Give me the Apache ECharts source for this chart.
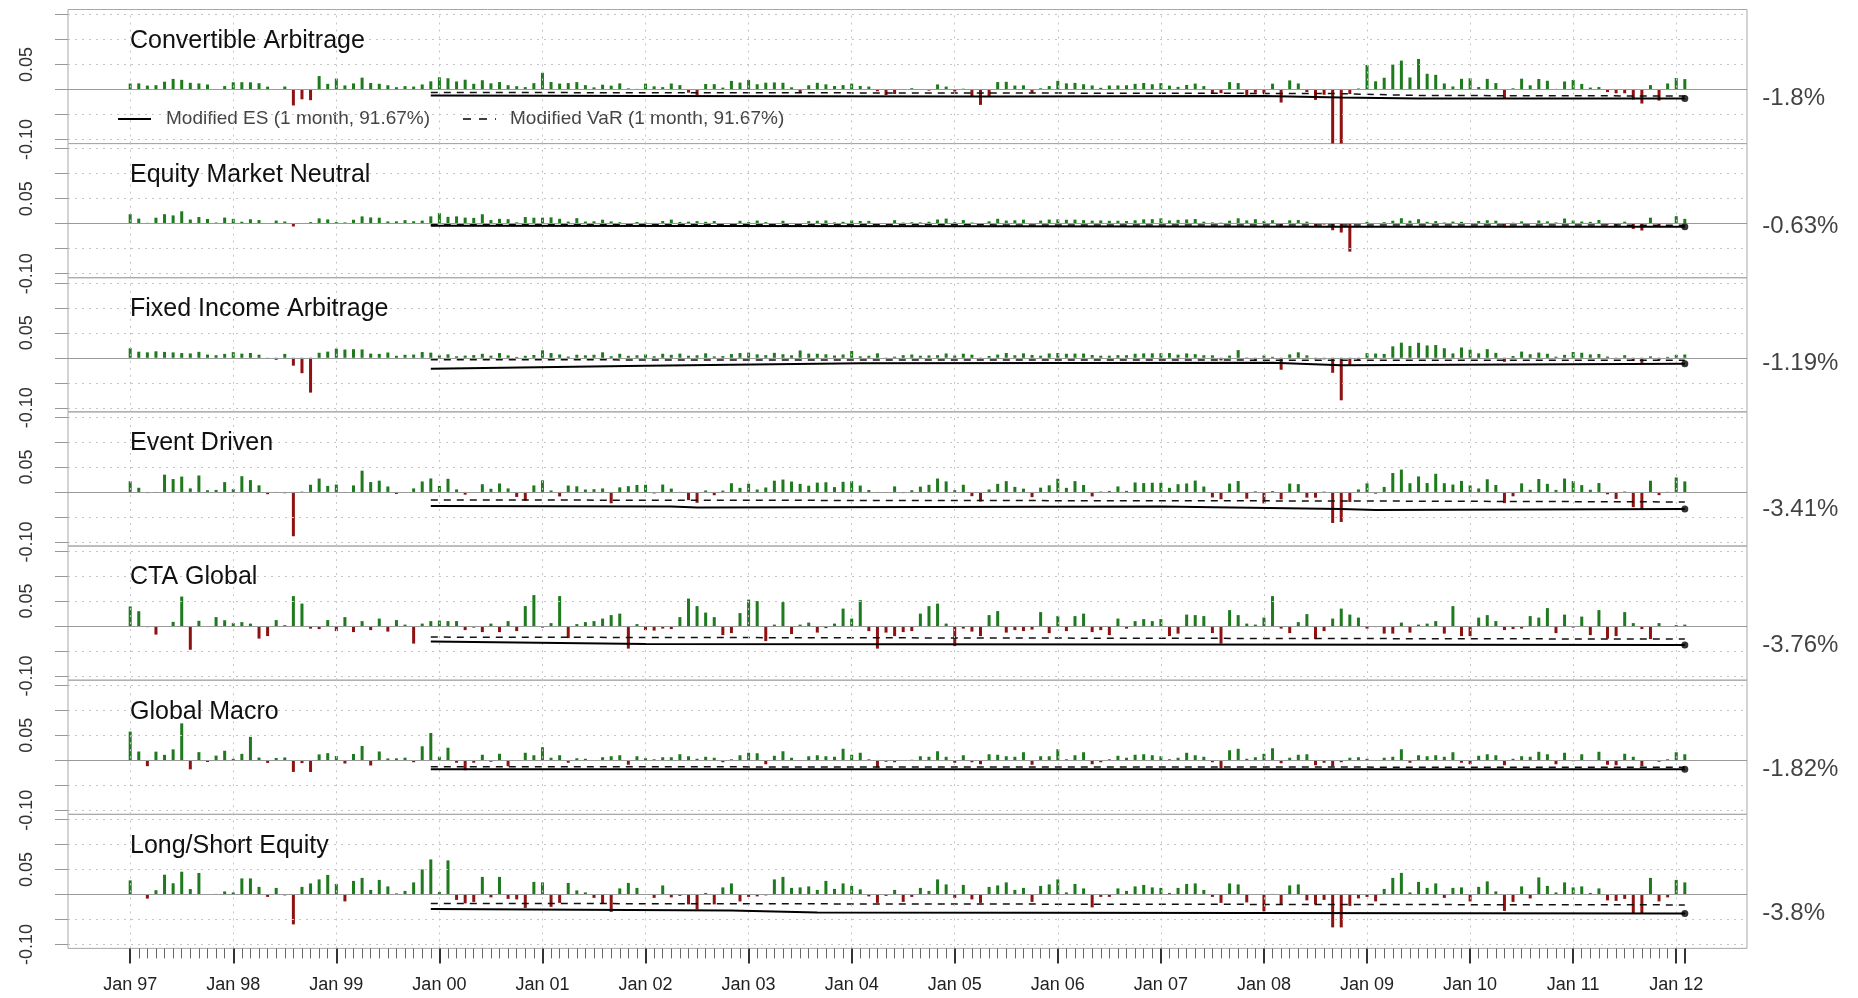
<!DOCTYPE html>
<html><head><meta charset="utf-8">
<script src="https://cdn.jsdelivr.net/npm/echarts@6/dist/echarts.min.js"></script>
<style>html,body{margin:0;padding:0;background:#fff}#c{width:1858px;height:998px}</style>
</head><body><div id="c"></div>
<script>
const panelNames = ['Convertible Arbitrage','Equity Market Neutral','Fixed Income Arbitrage','Event Driven','CTA Global','Global Macro','Long/Short Equity'];
const yearLabels = ['Jan 97','Jan 98','Jan 99','Jan 00','Jan 01','Jan 02','Jan 03','Jan 04','Jan 05','Jan 06','Jan 07','Jan 08','Jan 09','Jan 10','Jan 11','Jan 12'];
const yTickValues = [-0.10,-0.05,0,0.05,0.10,0.15];
const yLabelValues = [-0.10,0.05];
const esName = 'Modified ES (1 month, 91.67%)';
const varName = 'Modified VaR (1 month, 91.67%)';
const endLabels = ['-1.8%','-0.63%','-1.19%','-3.41%','-3.76%','-1.82%','-3.8%'];

// monthly returns Jan 1997 .. Feb 2012
const ca = [
.0119,.0123,.0078,.0086,.0156,.0212,.0193,.0134,.0122,.0100,.0000,.0068,
.0145,.0146,.0144,.0126,.0056,-.0006,.0060,-.0319,-.0196,-.0214,.0269,.0113,
.0219,.0082,.0122,.0237,.0131,.0115,.0085,.0046,.0067,.0058,.0101,.0164,
.0244,.0225,.0161,.0196,.0115,.0185,.0124,.0149,.0086,.0066,.0048,.0127,
.0334,.0151,.0119,.0129,.0148,.0087,.0043,.0096,.0076,.0123,.0023,.0012,
.0117,.0063,.0048,.0120,.0087,-.0063,-.0111,.0110,.0107,.0038,.0172,.0138,
.0191,.0105,.0136,.0141,.0135,.0044,-.0072,.0085,.0134,.0103,.0070,.0088,
.0118,.0071,.0060,-.0036,-.0111,-.0090,.0007,.0026,.0008,-.0023,.0102,.0058,
-.0041,.0016,-.0149,-.0308,-.0140,.0149,.0154,.0079,.0084,-.0066,.0024,.0069,
.0173,.0123,.0132,.0105,.0081,.0034,.0080,.0082,.0085,.0114,.0130,.0105,
.0128,.0077,.0053,.0091,.0118,.0068,-.0071,-.0074,.0148,.0129,-.0108,-.0064,
-.0071,.0116,-.0261,.0182,.0121,-.0051,-.0208,-.0106,-.1150,-.1237,-.0090,.0020,
.0491,.0164,.0235,.0500,.0578,.0241,.0611,.0315,.0293,.0121,.0061,.0214,
.0224,.0049,.0212,.0128,-.0174,.0024,.0216,.0084,.0211,.0175,.0012,.0161,
.0190,.0112,.0038,.0049,-.0052,-.0076,-.0076,-.0200,-.0281,.0088,-.0222,.0121,
.0231,.0208];
const emn = [
.0189,.0101,.0016,.0119,.0189,.0165,.0247,.0083,.0132,.0094,.0022,.0122,
.0096,.0038,.0088,.0072,.0002,.0062,.0043,-.0057,.0010,.0030,.0106,.0085,
.0031,.0025,.0078,.0145,.0124,.0119,.0044,.0046,.0069,.0048,.0061,.0146,
.0211,.0136,.0146,.0121,.0115,.0188,.0071,.0096,.0090,.0026,.0132,.0119,
.0119,.0125,.0097,.0041,.0110,.0042,.0046,.0079,.0045,.0028,.0013,.0034,
.0021,.0015,.0052,.0081,.0034,.0040,.0051,.0037,.0052,.0002,.0013,.0057,
.0030,.0062,.0030,.0004,.0057,.0014,-.0012,.0051,.0058,.0063,.0025,.0037,
.0064,.0053,.0055,-.0019,.0003,.0070,.0022,.0028,.0025,.0038,.0083,.0101,
.0029,.0072,.0022,.0005,.0047,.0097,.0062,.0067,.0080,-.0004,.0062,.0082,
.0087,.0078,.0080,.0070,.0060,.0064,.0057,.0058,.0052,.0068,.0086,.0090,
.0106,.0064,.0076,.0084,.0092,.0039,.0025,.0019,.0059,.0107,.0065,.0089,
.0051,.0070,-.0053,.0067,.0073,.0039,-.0061,-.0018,-.0132,-.0178,-.0560,.0012,
.0036,-.0001,.0029,.0058,.0109,.0059,.0090,.0037,.0051,.0023,.0041,.0037,
.0005,.0053,.0069,.0059,-.0073,.0019,.0045,.0005,.0065,.0045,.0024,.0103,
.0064,.0042,.0036,.0074,-.0016,-.0065,.0039,-.0105,-.0137,.0120,-.0060,.0014,
.0149,.0096];
const fia = [
.0191,.0122,.0109,.0130,.0118,.0108,.0095,.0087,.0119,.0064,.0052,.0078,
.0113,.0084,.0096,.0062,-.0003,-.0040,.0078,-.0157,-.0308,-.0696,.0101,.0124,
.0184,.0165,.0172,.0167,.0084,.0078,.0106,.0040,.0061,.0065,.0115,.0103,
.0050,.0070,.0030,.0044,.0054,.0080,.0042,.0095,.0048,.0018,.0040,.0057,
.0150,.0095,.0067,.0026,.0061,.0050,.0061,.0110,.0032,.0080,.0040,.0051,
.0067,.0031,.0081,.0060,.0084,.0042,.0051,.0090,.0029,.0034,.0075,.0095,
.0104,.0069,.0053,.0099,.0071,.0051,.0147,.0084,.0081,.0070,.0046,.0066,
.0137,.0030,.0041,.0090,-.0021,.0023,.0053,.0066,.0041,.0048,.0053,.0087,
.0047,.0083,.0062,.0005,.0037,.0064,.0096,.0051,.0089,.0057,.0042,.0087,
.0096,.0081,.0084,.0086,.0056,.0042,.0043,.0054,.0053,.0081,.0088,.0090,
.0092,.0095,.0063,.0088,.0073,.0051,.0050,-.0053,.0044,.0154,.0008,-.0058,
.0047,.0020,-.0239,.0067,.0110,.0049,-.0030,-.0031,-.0300,-.0850,-.0150,-.0050,
.0094,.0085,.0078,.0229,.0302,.0237,.0300,.0247,.0255,.0191,.0088,.0207,
.0162,.0089,.0173,.0099,-.0080,.0036,.0124,.0071,.0105,.0081,.0023,.0059,
.0116,.0101,.0068,.0075,.0025,-.0023,.0052,-.0064,-.0102,.0030,-.0048,.0019,
.0059,.0066];
const ed = [
.0213,.0084,-.0023,-.0005,.0346,.0258,.0307,.0071,.0329,.0034,.0041,.0197,
.0056,.0315,.0237,.0133,-.0045,-.0013,-.0026,-.0886,.0007,.0144,.0267,.0121,
.0148,-.0009,.0131,.0426,.0198,.0226,.0110,-.0040,.0000,.0071,.0210,.0270,
.0120,.0263,.0051,-.0054,.0000,.0155,.0064,.0170,.0071,-.0100,-.0175,.0131,
.0233,.0030,-.0090,.0128,.0113,.0049,.0055,.0070,-.0227,.0092,.0116,.0140,
.0143,-.0030,.0148,.0067,.0002,-.0163,-.0217,.0030,-.0066,.0028,.0175,.0082,
.0165,.0048,.0089,.0225,.0248,.0209,.0162,.0125,.0186,.0194,.0097,.0203,
.0215,.0128,.0040,-.0002,-.0002,.0111,-.0023,.0034,.0106,.0143,.0269,.0211,
.0036,.0144,-.0085,-.0192,.0049,.0162,.0216,.0101,.0066,-.0104,.0086,.0133,
.0264,.0082,.0217,.0139,-.0090,.0009,.0021,.0111,.0022,.0190,.0177,.0185,
.0182,.0082,.0155,.0170,.0228,.0109,-.0110,-.0145,.0167,.0218,-.0134,.0013,
-.0229,.0018,-.0148,.0167,.0157,-.0113,-.0115,.0008,-.0620,-.0600,-.0200,.0050,
.0172,-.0034,.0101,.0379,.0447,.0175,.0310,.0178,.0364,.0175,.0148,.0221,
.0130,.0070,.0254,.0139,-.0224,-.0087,.0172,.0043,.0259,.0162,.0041,.0268,
.0217,.0137,.0044,.0178,-.0047,-.0139,.0009,-.0304,-.0335,.0225,-.0064,.0003,
.0290,.0211];
const cta = [
.0393,.0298,-.0021,-.0170,-.0015,.0085,.0591,-.0473,.0106,-.0014,.0180,.0117,
.0060,.0080,.0050,-.0250,-.0200,.0120,.0020,.0600,.0450,-.0050,-.0060,.0120,
-.0100,.0180,-.0120,.0100,-.0080,.0150,-.0110,.0120,.0030,-.0350,.0050,.0100,
.0110,.0100,.0100,-.0080,-.0030,-.0120,.0050,-.0120,.0100,-.0100,.0400,.0620,
-.0030,.0060,.0600,-.0240,.0040,.0080,.0100,.0150,.0220,.0250,-.0450,.0040,
-.0080,-.0090,-.0050,-.0060,.0180,.0550,.0400,.0270,.0180,-.0180,-.0140,.0260,
.0530,.0500,-.0300,.0030,.0480,-.0160,.0030,.0070,-.0130,-.0040,.0050,.0350,
.0150,.0520,-.0100,-.0450,-.0130,-.0200,-.0120,-.0100,.0250,.0400,.0450,.0050,
-.0400,-.0050,-.0110,-.0200,.0220,.0300,-.0130,-.0080,-.0100,-.0070,.0280,-.0140,
.0200,-.0100,.0200,.0250,-.0120,-.0080,-.0180,.0150,-.0050,.0100,.0140,.0100,
.0140,-.0200,-.0150,.0230,.0220,.0200,-.0140,-.0350,.0320,.0220,.0050,.0030,
.0170,.0600,-.0050,-.0140,.0080,.0240,-.0260,-.0100,.0150,.0350,.0230,.0170,
-.0050,-.0020,-.0150,-.0150,.0070,-.0130,.0030,.0050,.0100,-.0150,.0400,-.0200,
-.0200,.0170,.0220,.0100,-.0080,-.0060,-.0050,.0200,.0170,.0360,-.0140,.0230,
-.0030,.0190,-.0180,.0320,-.0250,-.0200,.0280,.0060,-.0060,-.0260,.0060,.0000,
.0020,.0030];
const gm = [
.0573,.0175,-.0119,.0172,.0108,.0218,.0738,-.0182,.0162,-.0035,.0093,.0190,
.0030,.0128,.0468,.0054,-.0053,.0046,.0056,-.0233,-.0057,-.0234,.0117,.0142,
.0085,-.0065,.0125,.0285,-.0105,.0175,.0036,.0038,.0051,-.0040,.0280,.0545,
.0070,.0250,-.0050,-.0200,-.0050,.0110,-.0030,.0130,-.0120,-.0010,.0150,.0100,
.0260,.0050,.0100,-.0050,.0040,.0030,-.0010,.0060,.0080,.0100,-.0090,.0080,
.0040,.0020,.0060,.0060,.0120,.0080,.0030,.0070,.0050,-.0040,.0020,.0100,
.0150,.0140,-.0080,.0090,.0180,.0050,-.0010,.0080,.0100,.0080,.0070,.0230,
.0110,.0150,.0020,-.0150,-.0030,-.0040,-.0010,.0010,.0080,.0070,.0180,.0070,
-.0050,.0100,-.0040,-.0080,.0120,.0110,.0080,.0070,.0160,-.0090,.0080,.0080,
.0220,.0020,.0100,.0160,-.0080,-.0040,.0020,.0090,.0050,.0110,.0120,.0100,
.0080,.0020,.0050,.0150,.0100,.0070,-.0040,-.0160,.0200,.0230,.0030,.0060,
.0130,.0240,-.0060,.0050,.0110,.0120,-.0100,-.0050,-.0120,-.0040,.0050,.0060,
.0030,-.0010,.0050,.0070,.0220,-.0050,.0100,.0080,.0100,.0070,.0160,-.0050,
-.0080,.0090,.0120,.0100,-.0100,.0030,.0080,.0070,.0170,.0120,-.0080,.0150,
-.0020,.0120,.0000,.0170,-.0090,-.0100,.0130,.0070,-.0120,-.0010,-.0030,.0020,
.0160,.0120];
const lse = [
.0281,-.0006,-.0084,.0084,.0394,.0223,.0454,.0107,.0429,-.0010,.0010,.0060,
.0040,.0320,.0320,.0150,-.0050,.0130,-.0020,-.0600,.0150,.0220,.0300,.0390,
.0210,-.0140,.0270,.0330,.0090,.0290,.0160,.0020,.0070,.0240,.0500,.0700,
.0050,.0680,-.0110,-.0180,-.0150,.0350,-.0060,.0350,-.0090,-.0100,-.0270,.0250,
.0240,-.0250,-.0170,.0230,.0080,.0040,-.0070,-.0180,-.0350,.0120,.0230,.0130,
-.0010,-.0070,.0180,-.0060,-.0030,-.0200,-.0300,.0030,-.0200,.0140,.0220,-.0140,
-.0050,-.0040,-.0020,.0300,.0350,.0130,.0140,.0160,.0090,.0270,.0110,.0220,
.0170,.0100,-.0040,-.0170,-.0030,.0090,-.0150,-.0050,.0130,.0070,.0300,.0200,
-.0070,.0190,-.0100,-.0170,.0150,.0180,.0240,.0090,.0130,-.0150,.0170,.0200,
.0300,.0040,.0210,.0120,-.0260,-.0050,-.0050,.0120,.0070,.0160,.0190,.0140,
.0130,.0030,.0130,.0210,.0220,.0090,-.0050,-.0170,.0220,.0200,-.0160,-.0010,
-.0340,.0010,-.0200,.0180,.0200,-.0120,-.0200,-.0110,-.0660,-.0660,-.0230,-.0080,
-.0050,-.0140,.0110,.0330,.0430,.0040,.0250,.0130,.0220,-.0070,.0130,.0140,
-.0140,.0150,.0260,.0060,-.0330,-.0150,.0160,-.0080,.0340,.0170,.0040,.0240,
.0140,.0160,.0030,.0120,-.0120,-.0130,-.0090,-.0390,-.0380,.0330,-.0140,-.0060,
.0290,.0240];

// rolling risk lines: [month index, value]
const esCA  = [[35,-.012],[60,-.013],[100,-.014],[132,-.013],[141,-.016],[150,-.018],[181,-.018]];
const varCA = [[35,-.006],[100,-.007],[140,-.008],[150,-.012],[181,-.013]];
const esEMN  = [[35,-.004],[100,-.005],[140,-.006],[181,-.0063]];
const varEMN = [[35,-.002],[181,-.003]];
const esFIA  = [[35,-.022],[60,-.016],[85,-.011],[133,-.010],[141,-.015],[181,-.0119]];
const varFIA = [[35,-.004],[181,-.005]];
const esED  = [[35,-.028],[63,-.029],[66,-.031],[120,-.029],[141,-.034],[145,-.036],[181,-.0341]];
const varED = [[35,-.016],[141,-.018],[181,-.020]];
const esCTA  = [[35,-.031],[60,-.036],[181,-.0376]];
const varCTA = [[35,-.022],[181,-.026]];
const esGM  = [[35,-.018],[181,-.0182]];
const varGM = [[35,-.013],[181,-.014]];
const esLSE  = [[35,-.029],[70,-.032],[80,-.036],[181,-.038]];
const varLSE = [[35,-.018],[181,-.021]];

const returns = [ca, emn, fia, ed, cta, gm, lse];
const esLines = [esCA, esEMN, esFIA, esED, esCTA, esGM, esLSE];
const varLines = [varCA, varEMN, varFIA, varED, varCTA, varGM, varLSE];

// ---- layout ----
const LEFT = 68, RIGHT = 111, TOP0 = 9.5, PSTEP = 134.15, PH = 134;
const XMIN = -7.24, XMAX = 188.24, YMIN = -0.108, YMAX = 0.16;
const FONT = 'Liberation Sans, Arial, Helvetica, sans-serif';
const GREEN = '#1d7a1d', RED = '#8e1212';
const nMonths = ca.length;
const monthIdx = Array.from({length: nMonths}, (_, i) => i);
const janIdx = yearLabels.map((_, i) => i * 12);

const grids = [], xAxes = [], yAxes = [], series = [], titles = [];
for (let k = 0; k < 7; k++) {
  const top = TOP0 + k * PSTEP;
  grids.push({left: LEFT, right: RIGHT, top: top, height: PH, show: true, borderColor: '#a8a8a8', borderWidth: 1, backgroundColor: 'transparent'});
  const bottom = (k === 6);
  xAxes.push({type: 'value', gridIndex: k, min: XMIN, max: XMAX, show: bottom, position: 'bottom',
    axisLine: {show: false, onZero: false}, splitLine: {show: false},
    axisTick: {show: bottom, customValues: monthIdx, length: 10, lineStyle: {color: '#666', width: 1}},
    axisLabel: {show: bottom, customValues: janIdx, margin: 28, fontSize: 18, color: '#222', fontFamily: FONT,
      formatter: v => yearLabels[Math.round(v / 12)]}
  });
  yAxes.push({type: 'value', gridIndex: k, min: YMIN, max: YMAX,
    axisLine: {show: false, onZero: false}, splitLine: {show: false},
    axisTick: {show: true, customValues: yTickValues, length: 13, lineStyle: {color: '#999'}},
    axisLabel: {show: true, customValues: yLabelValues, rotate: 90, margin: 32, fontSize: 18, color: '#333', fontFamily: FONT,
      formatter: v => v.toFixed(2)}
  });
  titles.push({text: panelNames[k], left: 130, top: top + 19, padding: 0,
    textStyle: {fontSize: 25, fontWeight: 'normal', color: '#111', fontFamily: FONT}});

  // grid lines
  series.push({type: 'line', xAxisIndex: k, yAxisIndex: k, data: [], z: 1, silent: true,
    markLine: {silent: true, symbol: 'none', animation: false, label: {show: false},
      data: yTickValues.filter(v => v !== 0).map(v => ({yAxis: v, lineStyle: {color: '#c4c4c4', type: [2, 5], width: 1}}))
        .concat(janIdx.map(v => ({xAxis: v, lineStyle: {color: '#c4c4c4', type: [2, 5], width: 1}})))
        .concat([{yAxis: 0, lineStyle: {color: '#9a9a9a', type: 'solid', width: 1}}])
    }});
  // bars
  series.push({type: 'bar', xAxisIndex: k, yAxisIndex: k, barWidth: 3, z: 3, animation: false,
    data: returns[k].map((v, i) => [i, v]),
    itemStyle: {color: p => (p.value[1] >= 0 ? GREEN : RED)}});
  // VaR dashed
  series.push({type: 'line', name: varName, xAxisIndex: k, yAxisIndex: k, z: 4, animation: false, symbol: 'none',
    data: varLines[k], lineStyle: {color: '#111', width: 1.5, type: [7, 6]}});
  // ES solid
  series.push({type: 'line', name: esName, xAxisIndex: k, yAxisIndex: k, z: 5, animation: false, symbol: 'none',
    data: esLines[k], lineStyle: {color: '#000', width: 2}});
  // end point + label
  const last = esLines[k][esLines[k].length - 1];
  series.push({type: 'scatter', xAxisIndex: k, yAxisIndex: k, z: 6, animation: false, symbolSize: 7,
    itemStyle: {color: '#000'}, data: [last],
    label: {show: true, position: 'right', distance: 74, formatter: endLabels[k], fontSize: 24, color: '#111', fontFamily: FONT}});
}
// second bottom axis for major ticks
xAxes.push({type: 'value', gridIndex: 6, min: XMIN, max: XMAX, position: 'bottom',
  axisLine: {show: false, onZero: false}, splitLine: {show: false}, axisLabel: {show: false},
  axisTick: {show: true, customValues: janIdx.concat([nMonths - 1]), length: 15, lineStyle: {color: '#333', width: 2}}});

const chart = echarts.init(document.getElementById('c'));
chart.setOption({
  animation: false,
  backgroundColor: '#fff',
  title: titles,
  grid: grids, xAxis: xAxes, yAxis: yAxes, series: series,
  graphic: [
    {type: 'line', shape: {x1: 118, y1: 119, x2: 151, y2: 119}, style: {stroke: '#000', lineWidth: 2}},
    {type: 'text', x: 166, y: 119, style: {text: esName, fontSize: 19, fill: '#444', fontFamily: FONT, verticalAlign: 'middle'}},
    {type: 'line', shape: {x1: 463, y1: 119, x2: 496, y2: 119}, style: {stroke: '#000', lineWidth: 1.5, lineDash: [8, 8]}},
    {type: 'text', x: 510, y: 119, style: {text: varName, fontSize: 19, fill: '#444', fontFamily: FONT, verticalAlign: 'middle'}}
  ]
});
</script></body></html>
